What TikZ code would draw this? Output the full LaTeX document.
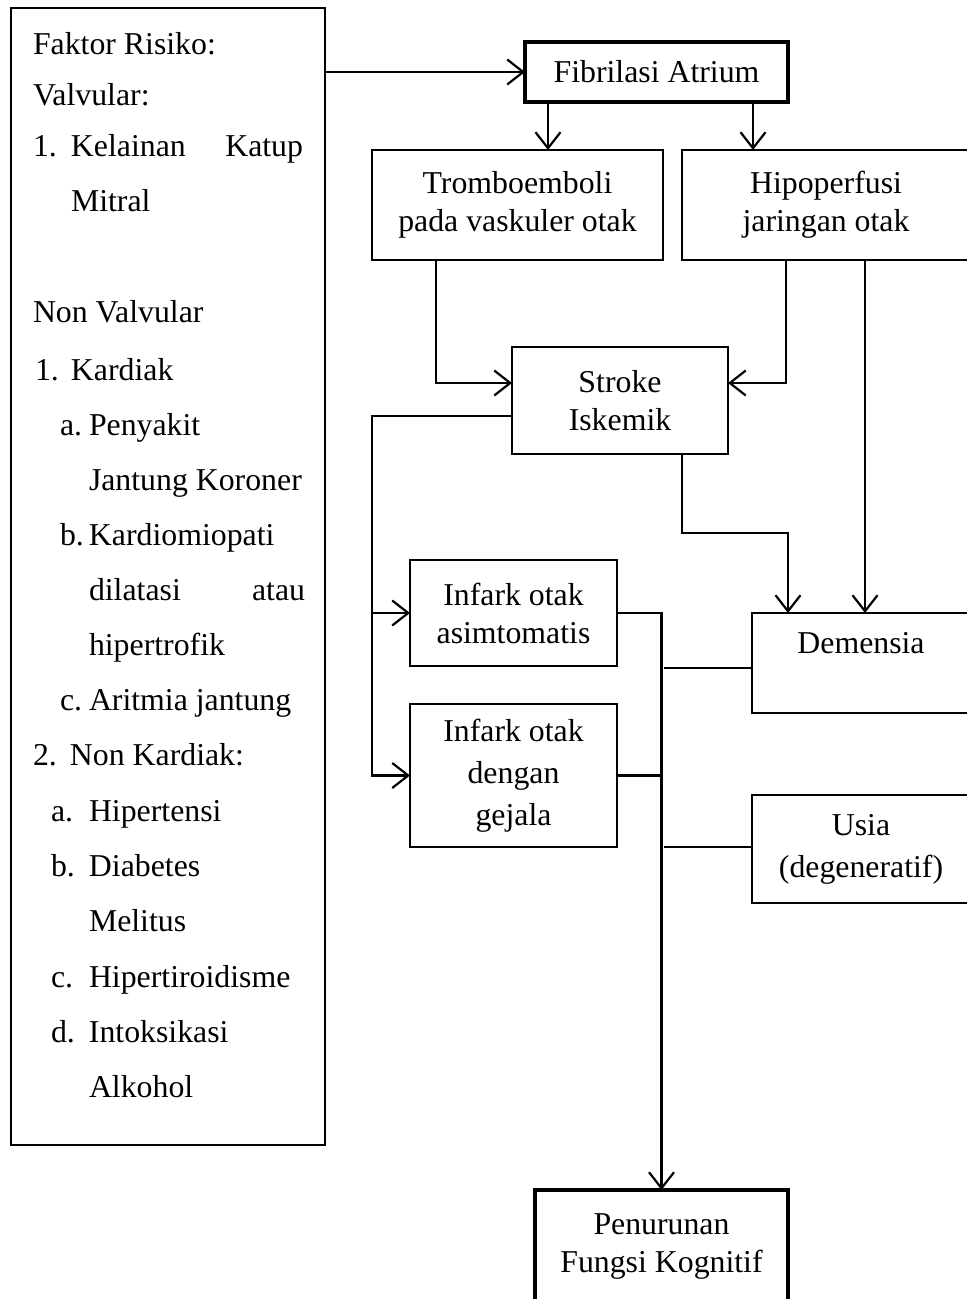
\documentclass[tikz,border=0pt]{standalone}
\usepackage{fontspec}
\setmainfont{Liberation Serif}
\usetikzlibrary{arrows.meta}
\begin{document}
\begin{tikzpicture}[x=1bp,y=-1bp,
  every node/.style={font=\fontsize{31.8bp}{38bp}\selectfont, inner sep=0pt, outer sep=0pt},
  box/.style={draw, line width=2.2bp, rectangle, align=center},
  thickbox/.style={box, line width=4.5bp},
  conn/.style={line width=2.2bp},
  arr/.style={conn, -{Straight Barb[length=16bp,width=25bp]}},
  item/.style={anchor=base west}]
\useasboundingbox (0,0) rectangle (966,1299);

% boxes
\node[box, minimum width=314bp, minimum height=1137bp] (risk) at (168,576.5) {};
\node[thickbox, minimum width=263bp, minimum height=60bp] (fa) at (656.5,72) {Fibrilasi Atrium};
\node[box, minimum width=291bp, minimum height=110bp] (trombo) at (517.5,205) {Tromboemboli\\pada vaskuler otak};
\node[box, minimum width=288bp, minimum height=110bp] (hipo) at (826,205) {Hipoperfusi\\jaringan otak};
\node[box, minimum width=216bp, minimum height=107bp] (stroke) at (620,400.5) {Stroke\\Iskemik};
\node[box, minimum width=207bp, minimum height=106bp] (asim) at (513.5,613) {Infark otak\\asimtomatis};
\node[box, minimum width=207bp, minimum height=143bp] (gejala) at (513.5,775.5) {Infark otak\\[4bp]dengan\\[4bp]gejala};
\node[box, minimum width=218bp, minimum height=100bp, text height=22bp, text depth=42bp] (demensia) at (861,663) {Demensia};
\node[box, minimum width=218bp, minimum height=108bp] (usia) at (861,849) {Usia\\[4bp](degeneratif)};
\node[thickbox, minimum width=253bp, minimum height=114bp] (kog) at (661.5,1247) {Penurunan\\Fungsi Kognitif};

% left box text
\node[item] (l1) at (33,55) {Faktor Risiko:};
\node[item] (l2) at (33,106) {Valvular:};
\node[item] (l3) at (33,157) {\makebox[38bp][l]{1.}\makebox[232bp][l]{Kelainan\hfill Katup}};
\node[item] (l4) at (71,212) {Mitral};
\node[item] (l5) at (33,323) {Non Valvular};
\node[item] (l6) at (35,380) {\makebox[36bp][l]{1.}Kardiak};
\node[item] (l7) at (60,435) {\makebox[29bp][l]{a.}Penyakit};
\node[item] (l8) at (89,490) {Jantung Koroner};
\node[item] (l9) at (60,545) {\makebox[29bp][l]{b.}Kardiomiopati};
\node[item] (l10) at (89,600) {\makebox[216bp][l]{dilatasi\hfill atau}};
\node[item] (l11) at (89,655) {hipertrofik};
\node[item] (l12) at (60,710) {\makebox[29bp][l]{c.}Aritmia jantung};
\node[item] (l13) at (33,765) {\makebox[37bp][l]{2.}Non Kardiak:};
\node[item] (l14) at (51,821) {\makebox[38bp][l]{a.}Hipertensi};
\node[item] (l15) at (51,876) {\makebox[38bp][l]{b.}Diabetes};
\node[item] (l16) at (89,931) {Melitus};
\node[item] (l17) at (51,987) {\makebox[38bp][l]{c.}Hipertiroidisme};
\node[item] (l18) at (51,1042) {\makebox[38bp][l]{d.}Intoksikasi};
\node[item] (l19) at (89,1097) {Alkohol};

% connectors
\draw[arr] (risk.east |- fa.west) -- (fa.west);
\draw[arr] ([xshift=23bp]fa.south west) -- ([xshift=23bp]fa.south west |- trombo.north);
\draw[arr] ([xshift=-35bp]fa.south east) -- ([xshift=-35bp]fa.south east |- hipo.north);
\draw[arr] ([xshift=64bp]trombo.south west) |- ([yshift=17.5bp]stroke.west);
\draw[arr] ([xshift=104bp]hipo.south west) |- ([yshift=17.5bp]stroke.east);
\draw[arr] ([xshift=183bp]hipo.south west) -- ([xshift=183bp]hipo.south west |- demensia.north);
\draw[arr] ([xshift=170bp]stroke.south west) -- ++(0,79) -| ([xshift=36bp]demensia.north west);
\draw[arr] ([yshift=-15.5bp]stroke.west) -| ([xshift=-38bp]gejala.west) -- (gejala.west);
\draw[arr] ([xshift=-38bp]asim.west) -- (asim.west);
\draw[arr] (asim.east) -| (kog.north);
\draw[conn] (gejala.east) -- ([xshift=1.5bp]gejala.east -| kog.north);
\coordinate (dm) at ([yshift=-5bp]demensia.west);
\draw[conn, shorten >=2.5bp] (dm) -- (dm -| kog.north);
\coordinate (us) at ([yshift=2bp]usia.west);
\draw[conn, shorten >=2.5bp] (us) -- (us -| kog.north);
\end{tikzpicture}
\end{document}
